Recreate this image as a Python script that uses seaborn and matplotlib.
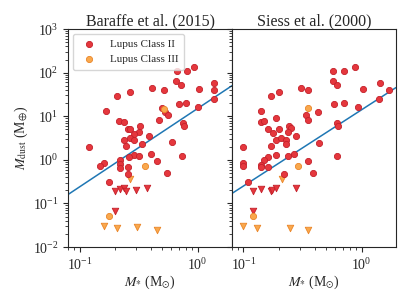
import numpy as np
import pandas as pd
import matplotlib
matplotlib.use("Agg")
import matplotlib.pyplot as plt
import seaborn as sns

# Baraffe et al. (2015) panel
b_c2_mstar = [0.664, 0.817, 0.936, 0.652, 0.729, 1.38, 1.38, 1.03, 0.41, 0.514,
              0.267, 0.209, 1.38, 0.80, 0.69, 1.01, 0.499, 0.527, 0.566, 0.169,
              0.466, 0.217, 0.238, 0.755, 0.77, 0.327, 0.258, 0.27, 0.317, 0.289,
              0.269, 0.385, 0.239, 0.289, 0.603, 0.12, 0.249, 0.337, 0.732, 0.403,
              0.289, 0.317, 0.26, 0.219, 0.219, 0.219, 0.16, 0.149, 0.259, 0.455,
              0.259, 0.553, 0.179]
b_c2_mdust = [109, 109, 133, 65, 52, 57, 40.4, 42.6, 43.7, 39.4,
              35.5, 28.5, 24.7, 20.6, 19.0, 16.6, 15.4, 12.5, 10.5, 13.0,
              8.03, 7.9, 7.42, 7.04, 5.86, 5.93, 5.14, 4.99, 4.28, 4.0,
              3.2, 3.57, 2.92, 2.88, 2.63, 1.97, 2.08, 2.31, 1.22, 1.35,
              1.30, 1.2, 1.19, 0.98, 0.80, 0.665, 0.855, 0.711, 0.683, 0.934,
              0.473, 0.501, 0.308]
b_c2_lim_mstar = [0.20, 0.22, 0.239, 0.249, 0.298, 0.376, 0.20]
b_c2_lim_mdust = [0.197, 0.216, 0.223, 0.197, 0.206, 0.223, 0.0686]
b_c3_mstar = [0.515, 0.358, 0.179]
b_c3_mdust = [15.0, 0.73, 0.0525]
b_c3_lim_mstar = [0.269, 0.16, 0.209, 0.308, 0.455]
b_c3_lim_mdust = [0.364, 0.0297, 0.028, 0.0285, 0.0241]
b_fit = (1.18, 1.8)  # intercept, slope in log-log

# Siess et al. (2000) panel
s_c2_mstar = [0.575, 0.713, 0.873, 0.575, 0.614, 1.42, 1.69, 1.415, 1.02, 0.308,
              0.349, 0.20, 0.17, 0.705, 0.586, 0.936, 0.338, 0.349, 0.427, 0.141,
              0.141, 0.15, 0.19, 0.622, 0.634, 0.16, 0.243, 0.251, 0.20, 0.239,
              0.179, 0.28, 0.19, 0.206, 0.227, 0.229, 0.17, 0.10, 0.438, 0.614,
              0.269, 0.239, 0.19, 0.16, 0.15, 0.14, 0.14, 0.0996, 0.10, 0.16,
              0.349, 0.22, 0.39, 0.11]
s_c2_mdust = [109, 109, 132, 64.8, 52, 57, 40.6, 24.7, 42.6, 43.7,
              39.4, 35.5, 28.5, 20.6, 19.0, 16.6, 10.7, 8.03, 12.8, 13.0,
              7.3, 7.9, 8.9, 7.1, 5.93, 5.14, 5.93, 5.4, 4.99, 4.33,
              4.04, 3.57, 2.92, 3.21, 2.88, 2.35, 2.11, 1.97, 2.47, 1.23,
              1.37, 1.21, 1.32, 1.19, 0.98, 0.78, 0.693, 0.855, 0.72, 0.683,
              0.934, 0.473, 0.506, 0.305]
s_c2_lim_mstar = [0.12, 0.14, 0.17, 0.174, 0.19, 0.28, 0.12]
s_c2_lim_mdust = [0.197, 0.219, 0.197, 0.206, 0.223, 0.223, 0.0686]
s_c3_mstar = [0.349, 0.289, 0.12]
s_c3_mdust = [15.2, 0.73, 0.0525]
s_c3_lim_mstar = [0.21, 0.10, 0.131, 0.249, 0.349]
s_c3_lim_mdust = [0.364, 0.0297, 0.028, 0.028, 0.0241]
s_fit = (1.15, 1.75)

titles = ["Baraffe et al. (2015)", "Siess et al. (2000)"]

sns.set_style("ticks")
plt.rcParams['font.family'] = ['Liberation Serif', 'DejaVu Serif']
plt.rcParams['mathtext.fontset'] = 'stix'

red_face, red_edge = '#e5373d', '#c4202a'
orange_face, orange_edge = '#f9a84d', '#ea8528'

fig, axes = plt.subplots(1, 2, figsize=(4.15, 2.91), dpi=100, sharey=True)
fig.subplots_adjust(left=0.164, right=0.954, top=0.9, bottom=0.151, wspace=0)

panels = [
    (b_c2_mstar, b_c2_mdust, b_c2_lim_mstar, b_c2_lim_mdust,
     b_c3_mstar, b_c3_mdust, b_c3_lim_mstar, b_c3_lim_mdust, b_fit),
    (s_c2_mstar, s_c2_mdust, s_c2_lim_mstar, s_c2_lim_mdust,
     s_c3_mstar, s_c3_mdust, s_c3_lim_mstar, s_c3_lim_mdust, s_fit),
]

for i, (ax, p) in enumerate(zip(axes, panels)):
    c2x, c2y, c2lx, c2ly, c3x, c3y, c3lx, c3ly, fit = p
    xs = np.array([0.08, 1.95])
    ys = 10 ** (fit[0] + fit[1] * np.log10(xs))
    sns.lineplot(x=xs, y=ys, ax=ax, color='C0', lw=1.1, zorder=1)

    sns.scatterplot(x=c2lx, y=c2ly, ax=ax, marker='v', s=22, color=red_face,
                    edgecolor=red_edge, linewidth=0.6, zorder=3)
    sns.scatterplot(x=c3lx, y=c3ly, ax=ax, marker='v', s=22, color=orange_face,
                    edgecolor=orange_edge, linewidth=0.6, zorder=3)
    sns.scatterplot(x=c2x, y=c2y, ax=ax, marker='o', s=20, color=red_face,
                    edgecolor=red_edge, linewidth=0.6, zorder=3,
                    label='Lupus Class II' if i == 0 else None)
    sns.scatterplot(x=c3x, y=c3y, ax=ax, marker='o', s=20, color=orange_face,
                    edgecolor=orange_edge, linewidth=0.6, zorder=4,
                    label='Lupus Class III' if i == 0 else None)

    ax.set_xscale('log')
    ax.set_yscale('log')
    ax.set_xlim(0.08, 1.95)
    ax.set_ylim(1e-2, 1e3)
    ax.set_title(titles[i], fontsize=11.5, pad=3)
    ax.set_xlabel(r'$M_{*}$ (M$_{\odot}$)', fontsize=10, labelpad=1)
    ax.tick_params(labelsize=10)
    for s in ax.spines.values():
        s.set_linewidth(0.8)

axes[0].set_ylabel(r'$M_{\rm dust}$ (M$_{\oplus}$)', fontsize=10, labelpad=2)
axes[0].legend(loc='upper left', fontsize=8, handletextpad=0.9, borderpad=0.5,
               labelspacing=0.5, borderaxespad=0.4, frameon=True)
axes[1].tick_params(axis='y', which='both', labelleft=False)

fig.savefig('out.png', dpi=100)
